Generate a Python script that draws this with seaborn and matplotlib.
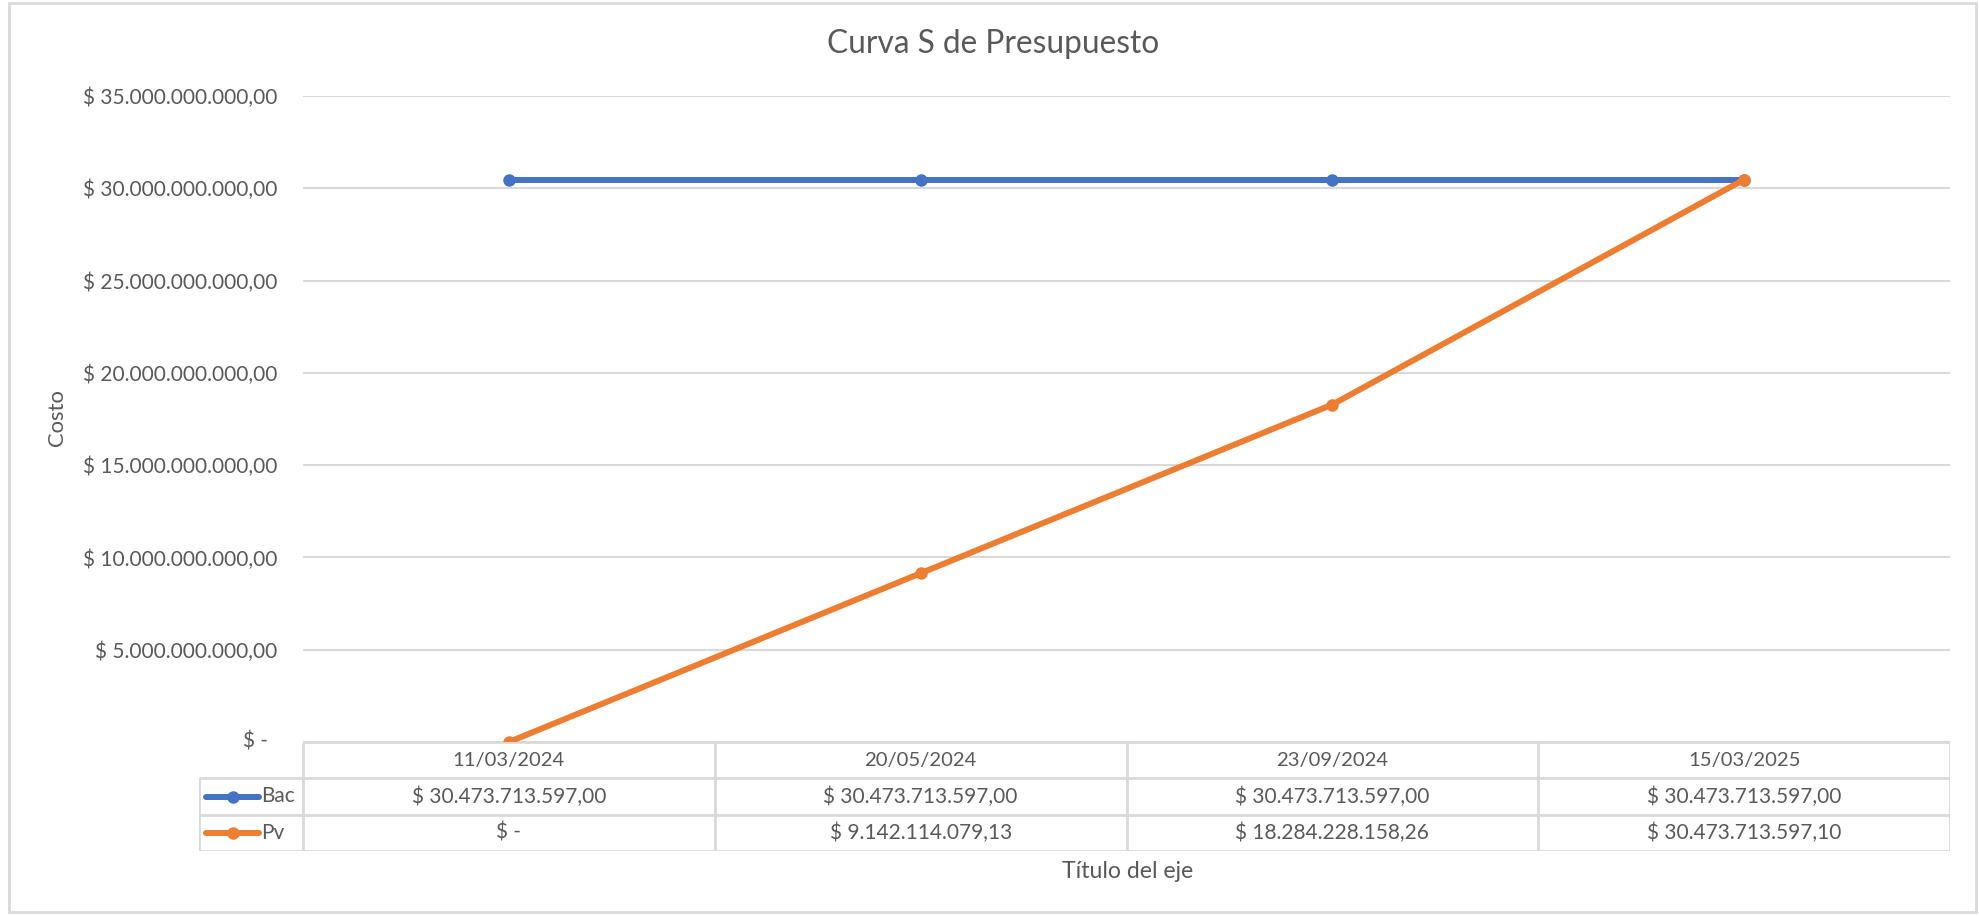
import matplotlib
matplotlib.use('Agg')
import matplotlib.pyplot as plt
from matplotlib.patches import Rectangle
import seaborn as sns
import pandas as pd

# ------------------------------------------------------------
# Data
# ------------------------------------------------------------
fechas = ["11/03/2024", "20/05/2024", "23/09/2024", "15/03/2025"]
bac = [30473713597.00, 30473713597.00, 30473713597.00, 30473713597.00]
pv = [0.0, 9142114079.13, 18284228158.26, 30473713597.10]
series = ["Bac", "Pv"]
colores = {"Bac": "#4472C4", "Pv": "#ED7D31"}
y_ticks = [0, 5e9, 10e9, 15e9, 20e9, 25e9, 30e9, 35e9]

df = pd.DataFrame({"fecha": fechas * 2,
                   "serie": ["Bac"] * 4 + ["Pv"] * 4,
                   "valor": bac + pv})
df["pos"] = list(range(len(fechas))) * 2


def formato(v):
    # formato contable estilo Excel en español
    if v == 0:
        return "$ -"
    s = f"{v:,.2f}".replace(",", "X").replace(".", ",").replace("X", ".")
    return "$ " + s


sns.set_theme(style="white")
plt.rcParams['font.family'] = ['Lato', 'DejaVu Sans']
gris_txt = "#595959"
gris_lin = "#D9D9D9"

W, H = 1979, 916
fig = plt.figure(figsize=(W / 100, H / 100), dpi=100)
fig.patch.set_facecolor("white")
renderer = fig.canvas.get_renderer()


def fx(px):
    return px / W


def fy(py):
    return 1 - py / H


def fit_size(texto, ancho_px, base=16):
    # font size that makes `texto` about `ancho_px` pixels wide
    t = fig.text(0, 0, texto, fontsize=base)
    w = t.get_window_extent(renderer).width
    t.remove()
    return base * ancho_px / w


fs_val = fit_size("$ 35.000.000.000,00", 194)
fs_fecha = fit_size("11/03/2024", 112)
fs_titulo = fit_size("Curva S de Presupuesto", 333)
fs_eje = fit_size("Título del eje", 131)
fs_costo = fit_size("Costo", 57)

# chart border
fig.patches.append(Rectangle((fx(9), fy(912)), fx(1976) - fx(9), fy(3) - fy(912),
                             transform=fig.transFigure, fill=False,
                             edgecolor=gris_lin, linewidth=2))

x_left, x_right = 303, 1950
y_top, y_zero, y_bottom = 96, 742, 851
ax = fig.add_axes([fx(x_left), fy(y_zero), fx(x_right) - fx(x_left), fy(y_top) - fy(y_zero)])

sns.lineplot(data=df, x="pos", y="valor", hue="serie", palette=colores,
             marker="o", markersize=9, markeredgewidth=0, linewidth=4.3,
             legend=False, ax=ax)

ax.set_xlim(-0.5, len(fechas) - 0.5)
ax.set_ylim(0, 35e9)
ax.set_yticks(y_ticks)
# the zero label is drawn separately (accounting format shifts it left)
ax.set_yticklabels([formato(t) if t else "" for t in y_ticks],
                   color=gris_txt, fontsize=fs_val)
ax.set_xticks([])
ax.tick_params(axis="y", length=0, pad=26 * 0.72)
ax.grid(axis="y", color=gris_lin, linewidth=1.5)
ax.set_axisbelow(True)
for s in ax.spines.values():
    s.set_visible(False)
ax.set_xlabel("")
ax.set_ylabel("")

fig.text(fx(268), fy(742), formato(y_ticks[0]), ha="right", va="center",
         color=gris_txt, fontsize=fs_val)
fig.text(fx(57), fy(418), "Costo", rotation=90, ha="center", va="center",
         color=gris_txt, fontsize=fs_costo)
fig.text(fx(993), fy(44), "Curva S de Presupuesto", ha="center", va="center",
         color=gris_txt, fontsize=fs_titulo)
fig.text(fx(1128), fy(871), "Título del eje", ha="center", va="center",
         color=gris_txt, fontsize=fs_eje)

# ------------------------------------------------------------
# Data table under the chart
# ------------------------------------------------------------
leg_left = 199
col_w = (x_right - x_left) / len(fechas)
tab = fig.add_axes([fx(leg_left), fy(y_bottom), fx(x_right) - fx(leg_left), fy(y_zero) - fy(y_bottom)])
x0 = -0.5 - (x_left - leg_left) / col_w
xe = len(fechas) - 0.5
tab.set_xlim(x0, xe)
tab.set_ylim(3, 0)
tab.axis("off")
lkw = dict(color=gris_lin, linewidth=2, solid_capstyle="butt")
tab.plot([-0.5, xe], [0, 0], **lkw)
for r in [1, 2, 3]:
    tab.plot([x0, xe], [r, r], **lkw)
tab.plot([x0, x0], [1, 3], **lkw)
for i in range(len(fechas) + 1):
    tab.plot([i - 0.5, i - 0.5], [0, 3], **lkw)

for i, f in enumerate(fechas):
    tab.text(i, 0.5, f, ha="center", va="center", color=gris_txt, fontsize=fs_fecha)
valores = {"Bac": bac, "Pv": pv}
for r, s in enumerate(series, start=1):
    for i, v in enumerate(valores[s]):
        tab.text(i, r + 0.5, formato(v), ha="center", va="center",
                 color=gris_txt, fontsize=fs_val)
    ka = x0 + 7 / col_w
    kb = x0 + 60 / col_w
    tab.plot([ka, kb], [r + 0.5, r + 0.5], color=colores[s], linewidth=4.3,
             solid_capstyle="round")
    tab.plot([(ka + kb) / 2], [r + 0.5], marker="o", markersize=9,
             markeredgewidth=0, color=colores[s])
    tab.text(x0 + 62 / col_w, r + 0.5, s, ha="left", va="center",
             color=gris_txt, fontsize=fs_val)

fig.savefig("out.png", dpi=100, facecolor="white")
